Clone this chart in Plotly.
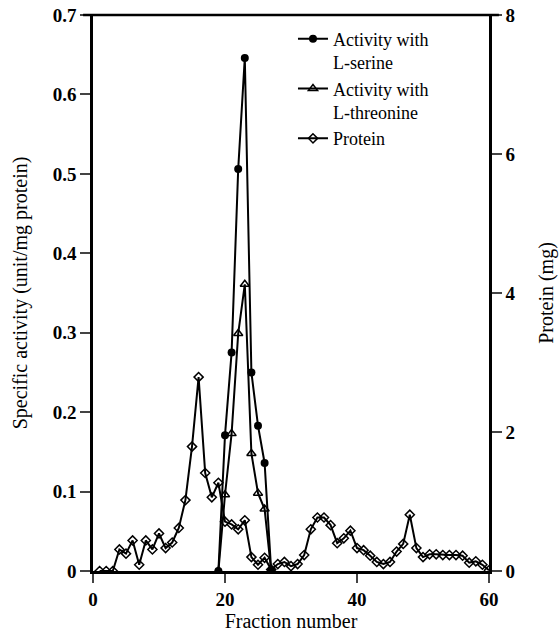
import plotly.graph_objects as go

fractions_protein = list(range(1, 61))
protein_mg = [0.0, 0.0, 0.0, 0.31, 0.25, 0.44, 0.09, 0.44, 0.31, 0.54,
              0.33, 0.41, 0.62, 1.02, 1.79, 2.79, 1.41, 1.06, 1.27, 0.71,
              0.67, 0.60, 0.73, 0.20, 0.09, 0.19, 0.02, 0.10, 0.13, 0.07,
              0.10, 0.23, 0.60, 0.77, 0.77, 0.66, 0.40, 0.47, 0.58, 0.33,
              0.30, 0.22, 0.13, 0.10, 0.13, 0.28, 0.39, 0.81, 0.33, 0.20,
              0.24, 0.24, 0.23, 0.23, 0.23, 0.22, 0.12, 0.14, 0.09, 0.01]

fractions_act = [19, 20, 21, 22, 23, 24, 25, 26, 27]
serine_act = [0.0, 0.171, 0.275, 0.506, 0.646, 0.25, 0.183, 0.136, 0.0]
threonine_act = [0.0, 0.096, 0.173, 0.299, 0.361, 0.148, 0.098, 0.078, 0.0]

x_ticks = [0, 20, 40, 60]
y_ticks = [0, 0.1, 0.2, 0.3, 0.4, 0.5, 0.6, 0.7]
y_ticktext = ["0", "0.1", "0.2", "0.3", "0.4", "0.5", "0.6", "0.7"]
y2_ticks = [0, 2, 4, 6, 8]

FONT = "Liberation Serif"
tickfont = dict(family=FONT, size=19, color="black", weight="bold")
titlefont = dict(family=FONT, size=20, color="black")

fig = go.Figure()
fig.add_trace(go.Scatter(
    x=fractions_act, y=serine_act, mode="lines+markers",
    name="Activity with<br>L-serine",
    line=dict(color="black", width=2),
    marker=dict(symbol="circle", size=8, color="black"),
))
fig.add_trace(go.Scatter(
    x=fractions_act, y=threonine_act, mode="lines+markers",
    name="Activity with<br>L-threonine",
    line=dict(color="black", width=2),
    marker=dict(symbol="triangle-up-open", size=8, color="black",
                line=dict(width=1.5, color="black")),
))
fig.add_trace(go.Scatter(
    x=fractions_protein, y=protein_mg, mode="lines+markers",
    name="Protein", yaxis="y2",
    line=dict(color="black", width=2),
    marker=dict(symbol="diamond-open", size=7, color="black",
                line=dict(width=1.5, color="black")),
))

fig.update_layout(
    width=559, height=635,
    margin=dict(l=93, r=70, t=15, b=64, autoexpand=False),
    paper_bgcolor="white", plot_bgcolor="white",
    showlegend=True,
    legend=dict(x=0.505, y=0.99, xanchor="left", yanchor="top",
                bgcolor="rgba(0,0,0,0)", valign="top",
                font=dict(family=FONT, size=18, color="black"),
                tracegroupgap=0, itemwidth=30),
    xaxis=dict(range=[0, 60], tickvals=x_ticks, ticks="outside", ticklen=9,
               tickwidth=2, showline=True, linewidth=2.5, linecolor="black",
               showgrid=False, zeroline=False, tickfont=tickfont,
               automargin=False,
               title=dict(text="Fraction number", font=titlefont, standoff=4)),
    yaxis=dict(range=[0, 0.7], tickvals=y_ticks, ticktext=y_ticktext,
               ticks="outside", ticklen=10, tickwidth=2, showline=True,
               linewidth=2.5, linecolor="black", showgrid=False,
               zeroline=False, tickfont=tickfont, automargin=False,
               title=dict(text="Specific activity (unit/mg protein)",
                          font=titlefont, standoff=20)),
    yaxis2=dict(range=[0, 8], tickvals=y2_ticks, overlaying="y", side="right",
                ticks="outside", ticklen=10, tickwidth=2, showline=True,
                linewidth=2.5, linecolor="black", showgrid=False,
                zeroline=False, tickfont=tickfont, automargin=False,
                title=dict(text="Protein (mg)", font=titlefont, standoff=25)),
    shapes=[dict(type="line", xref="paper", yref="paper", x0=-0.025, x1=1.025,
                 y0=1, y1=1, line=dict(color="black", width=2.5))],
)

fig.write_html("out.html")
